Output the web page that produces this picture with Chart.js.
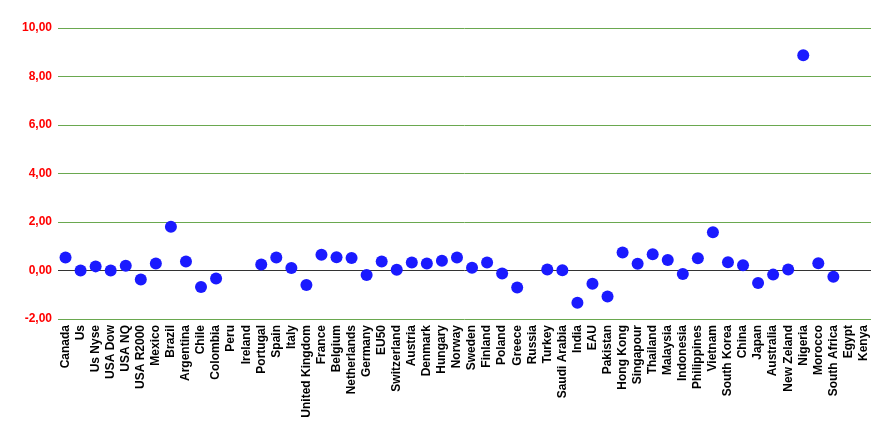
<!DOCTYPE html>
<html>
<head>
<meta charset="utf-8">
<script src="https://cdn.jsdelivr.net/npm/chart.js@4"></script>
<style>
  html, body { margin: 0; padding: 0; background: #fff; }
  #wrap { width: 893px; height: 436px; }
</style>
</head>
<body>
<div id="wrap"><canvas id="chart"></canvas></div>
<script>
const countries = ['Canada','Us','Us Nyse','USA Dow','USA NQ','USA R2000','Mexico','Brazil','Argentina','Chile','Colombia','Peru','Ireland','Portugal','Spain','Italy','United Kingdom','France','Belgium','Netherlands','Germany','EU50','Switzerland','Austria','Denmark','Hungary','Norway','Sweden','Finland','Poland','Greece','Russia','Turkey','Saudi Arabia','India','EAU','Pakistan','Hong Kong','Singapour','Thailand','Malaysia','Indonesia','Philippines','Vietnam','South Korea','China','Japan','Australia','New Zeland','Nigeria','Morocco','South Africa','Egypt','Kenya'];

const values = [0.54, 0.00, 0.17, 0.00, 0.20, -0.37, 0.29, 1.80, 0.37, -0.68, -0.33, null, null, 0.25, 0.54, 0.10,
  -0.60, 0.65, 0.55, 0.52, -0.19, 0.37, 0.03, 0.33, 0.29, 0.40, 0.54, 0.11, 0.33, -0.12, -0.70, null, 0.04, 0.01, -1.33,
  -0.55, -1.07, 0.74, 0.28, 0.67, 0.43, -0.14, 0.51, 1.58, 0.34, 0.22, -0.52, -0.17, 0.04, 8.88, 0.30, -0.26, null, null];

const yTicks = [-2, 0, 2, 4, 6, 8, 10];

function fmt(v){ return v.toFixed(2).replace('.', ','); }

new Chart(document.getElementById('chart'), {
  type: 'line',
  data: {
    labels: countries,
    datasets: [{
      data: values,
      showLine: false,
      pointRadius: 6,
      pointHoverRadius: 6,
      pointBackgroundColor: '#1a1aff',
      pointBorderColor: '#1a1aff',
      pointBorderWidth: 0
    }]
  },
  options: {
    responsive: true,
    maintainAspectRatio: false,
    animation: false,
    layout: { padding: { top: 28, right: 22, left: 0, bottom: 0 } },
    plugins: { legend: { display: false }, tooltip: { enabled: false } },
    scales: {
      x: {
        offset: true,
        grid: { display: false, drawTicks: false },
        border: { display: false },
        ticks: {
          autoSkip: false, minRotation: 90, maxRotation: 90, padding: 6,
          color: '#000', font: { family: '"Liberation Sans", Arial, sans-serif', size: 12, weight: 'bold' }
        },
        afterFit: s => { s.height = 117; }
      },
      y: {
        min: -2, max: 10,
        afterBuildTicks: s => { s.ticks = yTicks.map(v => ({ value: v })); },
        grid: {
          color: c => c.tick && c.tick.value === 0 ? '#333333' : '#6aa84f',
          lineWidth: 1,
          drawTicks: false
        },
        border: { display: false },
        ticks: {
          padding: 6,
          color: '#ff0000',
          font: { family: '"Liberation Sans", Arial, sans-serif', size: 12, weight: 'bold' },
          callback: v => fmt(v)
        },
        afterFit: s => { s.width = 58; }
      }
    }
  }
});
</script>
</body>
</html>
